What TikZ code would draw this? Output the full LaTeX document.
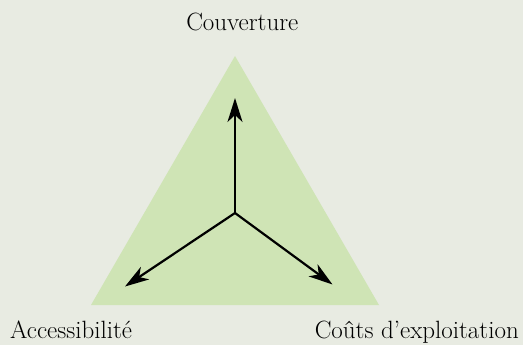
\documentclass[tikz,border=0pt]{standalone}
\usetikzlibrary{arrows.meta}
\definecolor{bgcol}{RGB}{232,235,226}
\definecolor{trifill}{RGB}{207,228,181}
\begin{document}
\begin{tikzpicture}[x=1pt,y=-1pt,
  lbl/.style={inner sep=0pt, font=\fontsize{25}{30}\selectfont},
  axis/.style={line width=2.2pt, -{Stealth[length=24pt,width=15pt,inset=7pt]}}]
\fill[bgcol] (0,0) rectangle (523,345);
\useasboundingbox (0,0) rectangle (523,345);
\fill[trifill] (235,56) -- (379,305) -- (91,305) -- cycle;
\coordinate (c) at (235,213);
\coordinate (up) at (235,98);
\coordinate (lt) at (125,286.5);
\coordinate (rt) at (332.5,284.5);
\draw[axis] (c) -- (up);
\draw[axis] (c) -- (lt);
\draw[axis] (c) -- (rt);
\node[lbl, anchor=base] (cov) at (242.3,31) {Couverture};
\node[lbl, anchor=base west] (acc) at (10,338) {Accessibilité};
\node[lbl, anchor=base east] (cout) at (519,338) {Coûts d’exploitation};
\end{tikzpicture}
\end{document}
